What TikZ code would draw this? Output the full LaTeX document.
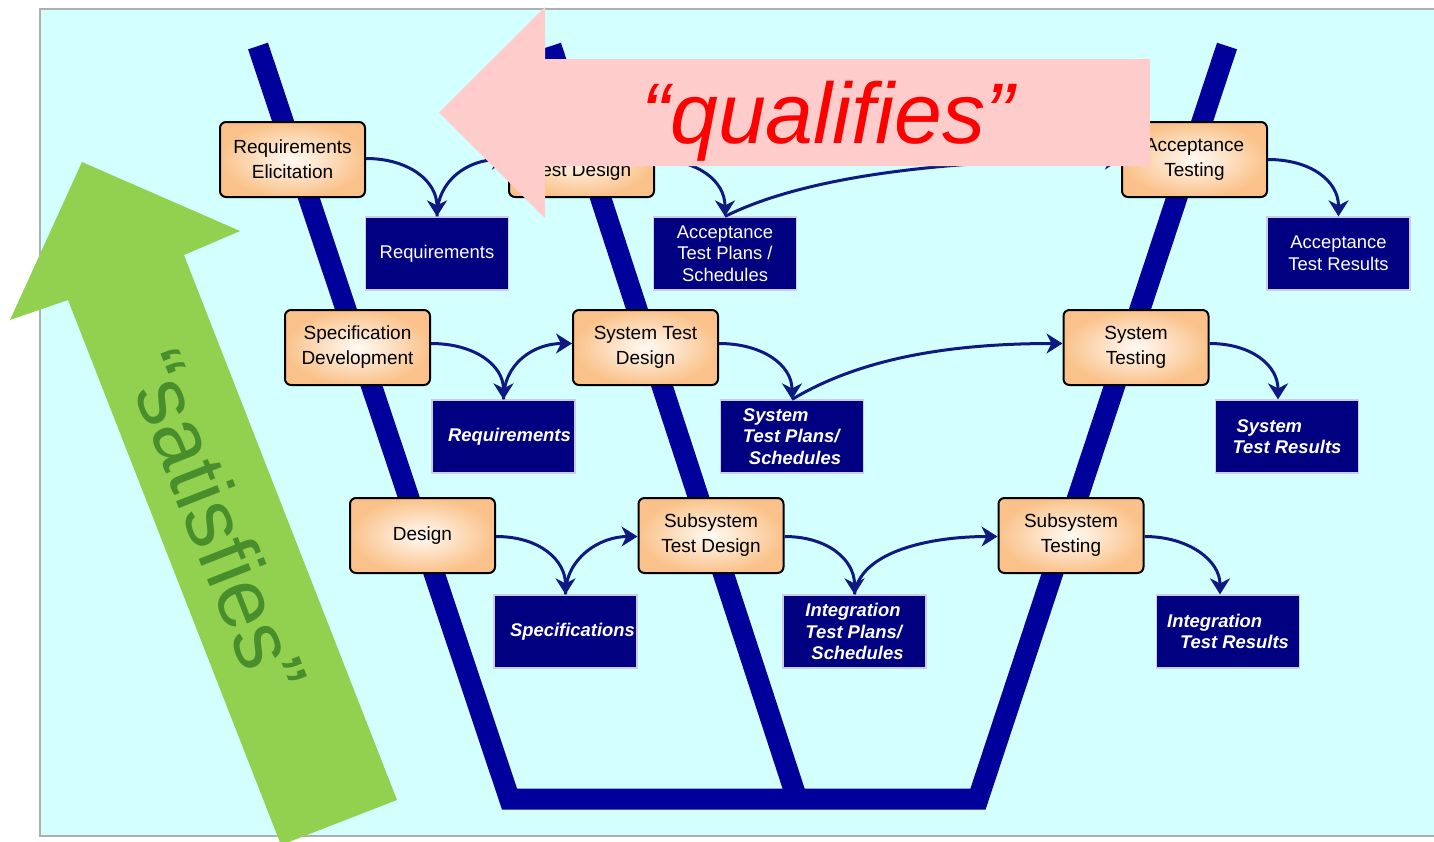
\documentclass[tikz,border=0pt]{standalone}
\usepackage{fontspec}
\setmainfont{Liberation Sans}
\usetikzlibrary{arrows.meta,calc}

\definecolor{bgcyan}{RGB}{212,255,255}
\definecolor{framegray}{RGB}{175,175,175}
\definecolor{vblue}{RGB}{0,0,155}
\definecolor{navybox}{RGB}{0,0,128}
\definecolor{flowblue}{RGB}{14,26,130}
\definecolor{peach}{RGB}{250,194,138}
\definecolor{peachin}{RGB}{255,250,244}
\definecolor{leaf}{RGB}{146,208,80}
\definecolor{leafdark}{RGB}{72,142,44}
\definecolor{rose}{RGB}{255,204,204}
\definecolor{qred}{RGB}{255,0,0}

\begin{document}
\begin{tikzpicture}[x=0.5pt,y=-0.5pt,
  activity/.style={draw=black, line width=1pt, rounded corners=3pt,
    shade, shading=radial, inner color=peachin, outer color=peach,
    minimum width=72.5pt, minimum height=37.5pt, inner sep=0pt,
    align=center, font=\fontsize{9.5}{12.5}\selectfont},
  artifact/.style={fill=navybox, draw=white!80!navybox, line width=0.6pt,
    minimum width=71.5pt, minimum height=36.5pt, inner sep=0pt,
    text=white, align=center, font=\fontsize{9.2}{10.8}\selectfont},
  artifactem/.style={artifact, align=left,
    font=\fontsize{9.2}{10.8}\selectfont\bfseries\itshape},
  flowarrow/.style={draw=flowblue, line width=1.5pt,
    -{Stealth[length=8pt,width=10pt,inset=2.5pt]}},
  vbar/.style={draw=vblue, line width=10.5pt},
]
\useasboundingbox (0,0) rectangle (1434,841);
\clip (0,0) rectangle (1434,841);

% page and framed panel
\fill[white] (0,0) rectangle (1434,841);
\filldraw[fill=bgcyan, draw=framegray, line width=0.75pt] (40,9) rectangle (1460,836);

% the V of the life cycle
\draw[vbar] (258,46) -- (509.5,799) -- (978,799) -- (1227,46);
\draw[vbar] (551,46) -- (797,799);

% activities
\node[activity] (reqel)  at (292.5,159.5) {Requirements\\Elicitation};
\node[activity] (atd)    at (581.5,159.5) {\phantom{Test Design}\\Test Design};
\node[activity] (acct)   at (1194.5,159.5) {Acceptance\\Testing};
\node[activity] (specd)  at (357.5,347.5) {Specification\\Development};
\node[activity] (systd)  at (645.5,347.5) {System Test\\Design};
\node[activity] (syst)   at (1136,347.5) {System\\Testing};
\node[activity] (design) at (422.5,535.5) {Design};
\node[activity] (subtd)  at (711,535.5) {Subsystem\\Test Design};
\node[activity] (subt)   at (1071,535.5) {Subsystem\\Testing};

% work products
\node[artifact] (req1) at (437,253.5) {Requirements};
\node[artifact] (atp)  at (725,253.5) {Acceptance\\Test Plans /\\Schedules};
\node[artifact] (atr)  at (1338.5,253.5) {Acceptance\\Test Results};
\node[artifactem] (req2) at (503.5,436.5) {\hspace*{6pt}Requirements};
\node[artifactem] (stp)  at (792,436.5) {System\\Test Plans/\\\hspace*{3pt}Schedules};
\node[artifactem] (str)  at (1287,436.5) {\hspace*{2pt}System\\Test Results};
\node[artifactem] (spec) at (565.5,631.5) {\hspace*{7pt}Specifications};
\node[artifactem] (itp)  at (854.5,631.5) {Integration\\Test Plans/\\\hspace*{3pt}Schedules};
\node[artifactem] (itr)  at (1228,631.5) {Integration\\\hspace*{6.5pt}Test Results};

% flows, top row
\draw[flowarrow] ($(reqel.east)+(0,-1)$) .. controls +(42,0) and +(0,-36) .. (req1.north);
\draw[flowarrow] (req1.north) .. controls +(0,-36) and +(-40,0) .. (atd.west);
\draw[flowarrow] (atd.east) .. controls +(42,0) and +(0,-36) .. (atp.north);
\draw[flowarrow] (atp.north) .. controls +(90,-45) and +(-150,0) .. (acct.west);
\draw[flowarrow] (acct.east) .. controls +(42,0) and +(0,-36) .. (atr.north);

% flows, middle row
\draw[flowarrow] ($(specd.east)+(0,-4)$) .. controls +(44,0) and +(0,-34) .. (req2.north);
\draw[flowarrow] (req2.north) .. controls +(0,-36) and +(-38,0) .. ($(systd.west)+(0,-4)$);
\draw[flowarrow] ($(systd.east)+(0,-4)$) .. controls +(44,0) and +(0,-34) .. (stp.north);
\draw[flowarrow] (stp.north) .. controls +(70,-42) and +(-110,0) .. ($(syst.west)+(0,-4)$);
\draw[flowarrow] ($(syst.east)+(0,-4)$) .. controls +(42,0) and +(0,-34) .. ($(str.north)+(-9,0)$);

% flows, bottom row
\draw[flowarrow] ($(design.east)+(0,1)$) .. controls +(44,0) and +(0,-34) .. (spec.north);
\draw[flowarrow] (spec.north) .. controls +(0,-36) and +(-38,0) .. ($(subtd.west)+(0,1)$);
\draw[flowarrow] ($(subtd.east)+(0,1)$) .. controls +(44,0) and +(0,-34) .. (itp.north);
\draw[flowarrow] (itp.north) .. controls +(5,-42) and +(-70,0) .. ($(subt.west)+(0,1)$);
\draw[flowarrow] ($(subt.east)+(0,1)$) .. controls +(44,0) and +(0,-34) .. ($(itr.north)+(-8,0)$);

% "satisfies" arrow, pointing up the left leg
\fill[leaf] (82,162) -- (240,231) -- (184,255) -- (397,800) -- (281,845)
  -- (68,300) -- (10,320) -- cycle;
\node[rotate=-68.6, text=leafdark, inner sep=0pt,
  font=\fontsize{42}{42}\selectfont] (satlabel) at (217,522) {“satisfies”};

% "qualifies" arrow, pointing back across the top
\fill[rose] (439,112.5) -- (545,7) -- (545,59) -- (1150,59) -- (1150,166)
  -- (545,166) -- (545,218) -- cycle;
\node[anchor=base, text=qred, inner sep=0pt,
  font=\fontsize{43}{43}\selectfont\itshape] (qlabel) at (828,143) {“qualifies”};
\end{tikzpicture}
\end{document}
